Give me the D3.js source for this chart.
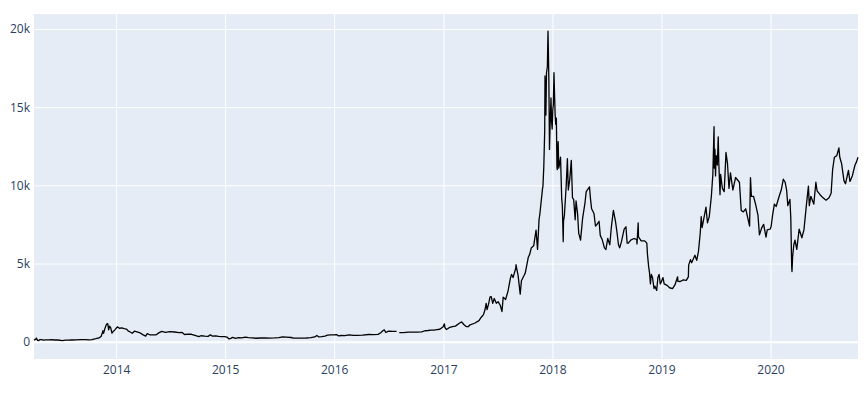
<!DOCTYPE html>
<html>
<head>
<meta charset="utf-8">
<style>
  body { margin: 0; background: #fff; font-family: "Open Sans", "Noto Sans", sans-serif; }
  .tick text { fill: #2a3f5f; font-size: 12px; font-family: "Open Sans", sans-serif; }
  .axis .domain { display: none; }
  .grid line { stroke: #fff; stroke-width: 1; }
  .grid .domain { display: none; }
  .price { fill: none; stroke: #000; stroke-width: 1.3; stroke-linejoin: round; }
</style>
<script src="https://cdn.jsdelivr.net/npm/d3@7/dist/d3.min.js"></script>
</head>
<body>
<svg id="chart" width="866" height="393"></svg>
<script>
// closing price (null = gap in the data)
var dates = [
  "2013-04-01","2013-04-04","2013-04-07","2013-04-09","2013-04-11","2013-04-13","2013-04-16","2013-04-20","2013-04-26",
  "2013-05-03","2013-05-10","2013-05-20","2013-05-30","2013-06-08","2013-06-20","2013-07-05","2013-07-15","2013-07-25",
  "2013-08-05","2013-08-20","2013-09-05","2013-09-20","2013-10-02","2013-10-12","2013-10-25","2013-11-05","2013-11-12",
  "2013-11-18","2013-11-20","2013-11-24","2013-11-30","2013-12-04","2013-12-07","2013-12-10","2013-12-14","2013-12-18",
  "2013-12-22","2013-12-27",
  "2014-01-05","2014-01-12","2014-01-20","2014-01-28","2014-02-05","2014-02-10","2014-02-17","2014-02-24","2014-03-03",
  "2014-03-12","2014-03-22","2014-03-31","2014-04-10","2014-04-15","2014-04-25","2014-05-05","2014-05-15","2014-05-25",
  "2014-06-03","2014-06-15","2014-06-30","2014-07-15","2014-07-31","2014-08-10","2014-08-18","2014-08-31","2014-09-10",
  "2014-09-22","2014-10-05","2014-10-12","2014-10-25","2014-11-05","2014-11-12","2014-11-20","2014-11-30","2014-12-10",
  "2014-12-20","2014-12-31",
  "2015-01-07","2015-01-14","2015-01-20","2015-01-26","2015-02-05","2015-02-15","2015-02-25","2015-03-10","2015-03-20",
  "2015-04-01","2015-04-14","2015-04-30","2015-05-15","2015-05-31","2015-06-15","2015-06-30","2015-07-12","2015-07-25",
  "2015-08-10","2015-08-18","2015-08-31","2015-09-15","2015-09-30","2015-10-15","2015-10-28","2015-11-04","2015-11-11",
  "2015-11-20","2015-12-01","2015-12-10","2015-12-20","2015-12-31",
  "2016-01-10","2016-01-15","2016-01-25","2016-02-05","2016-02-20","2016-03-05","2016-03-20","2016-04-05","2016-04-25",
  "2016-05-10","2016-05-27","2016-06-05","2016-06-12","2016-06-17","2016-06-22","2016-07-01","2016-07-15","2016-07-28",
  "2016-07-31","2016-08-06","2016-08-20","2016-09-05","2016-09-20","2016-10-05","2016-10-20","2016-10-31","2016-11-10",
  "2016-11-20","2016-11-30","2016-12-10","2016-12-20","2016-12-31",
  "2017-01-04","2017-01-06","2017-01-11","2017-01-20","2017-01-31","2017-02-10","2017-02-23","2017-03-03","2017-03-10",
  "2017-03-18","2017-03-25","2017-03-31","2017-04-15","2017-04-30","2017-05-07","2017-05-15","2017-05-20","2017-05-24",
  "2017-05-27","2017-06-01","2017-06-06","2017-06-10","2017-06-15","2017-06-20","2017-06-27","2017-07-03","2017-07-10",
  "2017-07-16","2017-07-20","2017-07-28","2017-08-05","2017-08-13","2017-08-17","2017-08-22","2017-08-31","2017-09-01",
  "2017-09-08","2017-09-14","2017-09-15","2017-09-19","2017-09-27","2017-10-02","2017-10-12","2017-10-17","2017-10-22",
  "2017-10-30","2017-11-07","2017-11-12","2017-11-17","2017-11-20","2017-11-26","2017-11-29","2017-11-30","2017-12-03",
  "2017-12-06","2017-12-07","2017-12-08","2017-12-10","2017-12-12","2017-12-15","2017-12-17","2017-12-18","2017-12-20",
  "2017-12-22","2017-12-24","2017-12-27","2017-12-29","2017-12-31",
  "2018-01-02","2018-01-04","2018-01-06","2018-01-08","2018-01-10","2018-01-12","2018-01-14","2018-01-16","2018-01-17",
  "2018-01-20","2018-01-22","2018-01-24","2018-01-28","2018-02-01","2018-02-03","2018-02-06","2018-02-07","2018-02-10",
  "2018-02-16","2018-02-20","2018-02-23","2018-02-28",
  "2018-03-05","2018-03-09","2018-03-13","2018-03-18","2018-03-21","2018-03-26","2018-03-30","2018-04-01","2018-04-05",
  "2018-04-12","2018-04-20","2018-04-24","2018-05-05","2018-05-08","2018-05-12","2018-05-20","2018-05-25","2018-05-30",
  "2018-06-06","2018-06-10","2018-06-17","2018-06-24","2018-06-29","2018-07-05","2018-07-12","2018-07-17","2018-07-24",
  "2018-07-31","2018-08-05","2018-08-10","2018-08-14","2018-08-20","2018-08-29","2018-09-04","2018-09-08","2018-09-12",
  "2018-09-20","2018-10-01","2018-10-10","2018-10-11","2018-10-15","2018-10-16","2018-10-25","2018-11-06","2018-11-13",
  "2018-11-15","2018-11-19","2018-11-22","2018-11-25","2018-11-28","2018-12-02","2018-12-07","2018-12-10","2018-12-16",
  "2018-12-20","2018-12-24","2018-12-28","2018-12-31",
  "2019-01-06","2019-01-10","2019-01-20","2019-01-28","2019-02-07","2019-02-15","2019-02-24","2019-02-25","2019-03-05",
  "2019-03-15","2019-03-25","2019-04-01","2019-04-02","2019-04-08","2019-04-12","2019-04-23","2019-04-29","2019-05-05",
  "2019-05-11","2019-05-14","2019-05-17","2019-05-24","2019-05-30","2019-06-04","2019-06-10","2019-06-17","2019-06-22",
  "2019-06-26","2019-06-27","2019-06-29","2019-07-01","2019-07-03","2019-07-07","2019-07-10","2019-07-12","2019-07-16",
  "2019-07-18","2019-07-24","2019-07-30","2019-08-05","2019-08-10","2019-08-15","2019-08-20","2019-08-28","2019-09-06",
  "2019-09-19","2019-09-25",
  "2019-10-02","2019-10-10","2019-10-23","2019-10-26","2019-10-29","2019-11-05","2019-11-12","2019-11-20","2019-11-25",
  "2019-12-03","2019-12-09","2019-12-17","2019-12-21","2019-12-31",
  "2020-01-03","2020-01-08","2020-01-14","2020-01-20","2020-01-30","2020-02-06","2020-02-13","2020-02-19","2020-02-24",
  "2020-02-28","2020-03-06","2020-03-09","2020-03-12","2020-03-13","2020-03-15","2020-03-19","2020-03-23","2020-03-29",
  "2020-04-06","2020-04-15","2020-04-22","2020-04-30","2020-05-07","2020-05-10","2020-05-15","2020-05-25","2020-06-01",
  "2020-06-05","2020-06-15","2020-06-25","2020-07-05","2020-07-15","2020-07-22","2020-07-27","2020-08-02","2020-08-10",
  "2020-08-17","2020-08-20","2020-08-26","2020-09-03","2020-09-08","2020-09-18","2020-09-23","2020-10-01","2020-10-10",
  "2020-10-15","2020-10-20"
];

var prices = [
  93,133,162,230,160,80,68,127,137,
  97,117,122,129,108,108,70,98,95,
  107,122,128,126,110,138,190,240,350,
  700,530,820,1130,1150,760,1000,880,550,
  650,740,
  950,860,880,830,800,690,620,540,670,
  630,570,450,360,520,430,430,445,580,
  665,595,640,620,585,590,460,480,475,
  400,320,380,350,340,440,355,375,345,
  320,320,
  295,178,210,275,218,255,240,290,260,
  245,220,235,237,230,238,264,310,290,
  268,230,230,230,237,255,305,400,305,
  325,360,415,440,430,
  448,375,395,385,440,400,410,422,460,
  452,470,575,700,760,590,675,665,655,
  null,585,580,610,610,612,630,700,715,
  735,745,770,795,960,
  1140,900,780,895,970,995,1180,1270,1100,
  970,960,1080,1180,1350,1550,1730,2040,2450,
  2050,2400,2870,2880,2450,2760,2460,2560,2330,
  1930,2850,2700,3220,4050,4300,4100,4700,4920,
  4230,3200,3040,3900,4200,4400,5400,5600,6000,
  6130,7140,5900,7790,8200,9300,9850,9900,11200,
  13500,17000,16000,14500,17200,17600,19860,18900,16600,
  12300,13800,15600,14100,13600,
  14800,15200,17200,15800,14500,13900,14300,11200,11000,
  12800,11100,11300,11800,9100,8700,6400,7700,8100,
  10000,11700,9700,10400,
  11600,9200,9100,7800,9000,8200,6900,6800,6500,
  7900,8900,9600,9900,9200,8500,8200,7400,7500,
  7700,6800,6500,6000,5900,6600,6200,7300,8400,
  7700,7000,6200,6000,6400,7200,7350,6300,6300,
  6500,6600,6550,6250,7600,6700,6450,6450,6300,
  5600,4800,4400,3700,4300,4100,3400,3550,3280,
  4100,4300,3700,3800,
  4100,3700,3600,3450,3400,3630,4150,3860,3850,
  3950,3920,4150,4900,5250,5050,5530,5200,5800,
  7000,8000,7300,8000,8600,7600,8000,9300,10700,
  13750,11100,12300,10600,11900,11300,13100,11400,9400,
  10700,9800,9600,12100,11400,9800,10800,9700,10500,
  10200,8400,
  8300,8500,7400,10500,9300,9300,8800,8100,6830,
  7300,7500,6690,7150,7200,
  7350,8100,8800,8650,9300,9700,10390,10200,9700,
  8700,9100,7900,4800,4490,5400,6200,6500,5900,
  7200,6650,7150,8700,9950,8700,9300,8800,10200,
  9650,9400,9200,9050,9200,9500,11000,11800,11900,
  12400,11800,11400,10300,10100,10950,10250,10600,11300,
  11500,11800
];

var yearTicks = ["2014","2015","2016","2017","2018","2019","2020"];
var priceTicks = [0, 5000, 10000, 15000, 20000];

var margin = {top: 14, right: 8, bottom: 34, left: 34},
    width = 866 - margin.left - margin.right,
    height = 393 - margin.top - margin.bottom;

var parseDay = d3.utcParse("%Y-%m-%d"),
    parseYear = d3.utcParse("%Y");

var data = dates.map(function(d, i) { return {date: parseDay(d), close: prices[i]}; });

var x = d3.scaleUtc()
    .domain(d3.extent(data, function(d) { return d.date; }))
    .range([0, width]);

var y = d3.scaleLinear()
    .domain([-1107, 20959])
    .range([height, 0]);

var svg = d3.select("#chart")
  .append("g")
    .attr("transform", "translate(" + margin.left + "," + margin.top + ")");

svg.append("rect")
    .attr("width", width)
    .attr("height", height)
    .attr("fill", "#E5ECF6");

var xTicks = yearTicks.map(parseYear);

svg.append("g")
    .attr("class", "grid")
    .attr("transform", "translate(0," + height + ")")
    .call(d3.axisBottom(x).tickValues(xTicks).tickSize(-height).tickFormat(""));

svg.append("g")
    .attr("class", "grid")
    .call(d3.axisLeft(y).tickValues(priceTicks).tickSize(-width).tickFormat(""))
    .selectAll(".tick line")
    .filter(function(d) { return d === 0; })
    .style("stroke-width", 2);

svg.append("g")
    .attr("class", "axis")
    .attr("transform", "translate(0," + height + ")")
    .call(d3.axisBottom(x).tickValues(xTicks).tickSize(0).tickPadding(6).tickFormat(d3.utcFormat("%Y")));

svg.append("g")
    .attr("class", "axis")
    .call(d3.axisLeft(y).tickValues(priceTicks).tickSize(0).tickPadding(4).tickFormat(d3.format("~s")));

var line = d3.line()
    .defined(function(d) { return d.close != null; })
    .x(function(d) { return x(d.date); })
    .y(function(d) { return y(d.close); });

svg.append("path")
    .datum(data)
    .attr("class", "price")
    .attr("d", line);
</script>
</body>
</html>
